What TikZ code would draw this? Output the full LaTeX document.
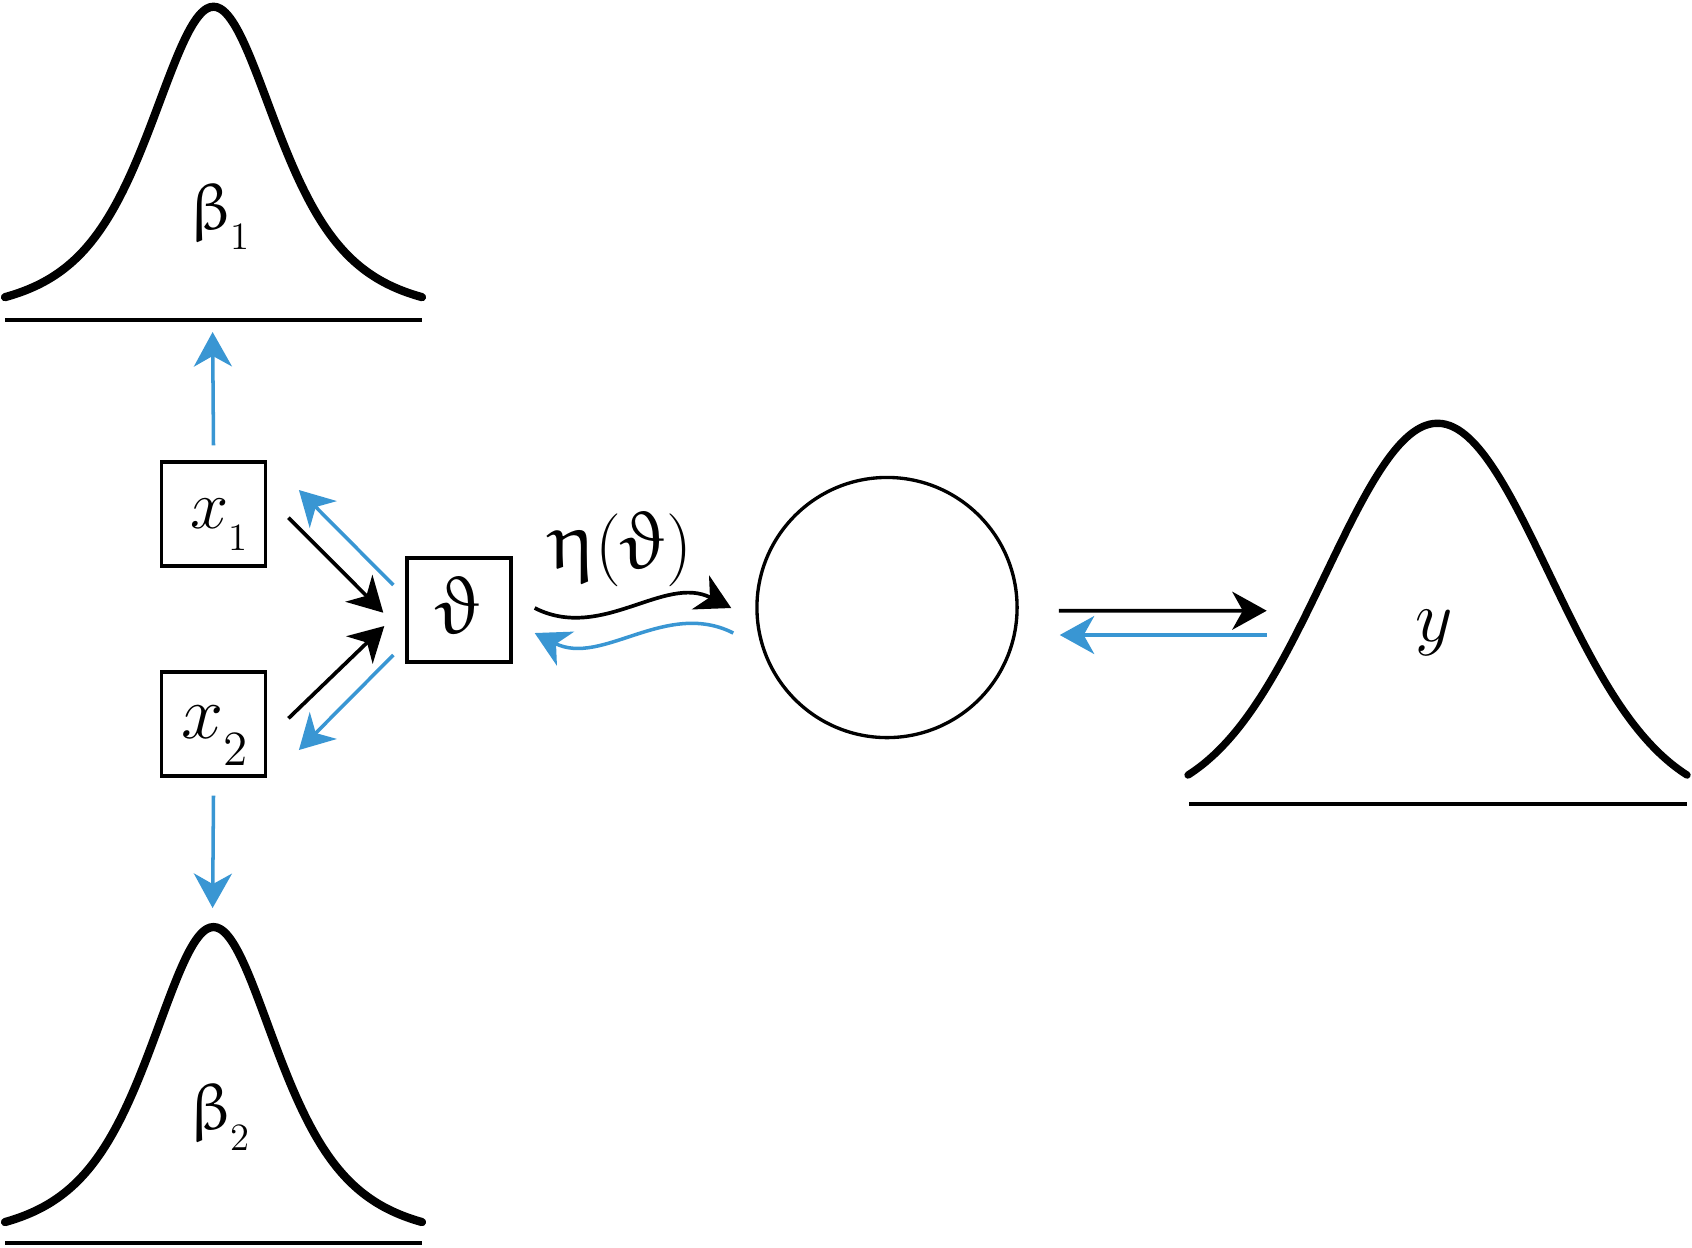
\RequirePackage{fix-cm}
\documentclass[tikz,border=0pt]{standalone}
\usepackage{graphicx}
\usepackage{upgreek}
\usetikzlibrary{arrows.meta,calc}
\definecolor{myblue}{RGB}{57,150,211}
% subscript: size, drop, text
\newcommand\mysub[3]{\raisebox{-#2}{\fontsize{#1}{13}\selectfont #3}}
\newcommand\myth{\scalebox{1.12}{$\upvartheta$}}
\newcommand\myeta{\scalebox{1.12}{$\upeta$}}
\newcommand\mybeta{\scalebox{0.9}{$\upbeta$}}
\tikzset{
  boxnode/.style={draw, rectangle, line width=0.95pt, minimum size=1.04cm, inner sep=0pt},
  circnode/.style={draw, circle, line width=0.95pt, minimum size=2.6cm, inner sep=0pt},
  lbl/.style={inner sep=0pt, font=\fontsize{20.74}{25}\selectfont},
  tipstyle/.style={-{Stealth[length=9.8pt,width=10.8pt,inset=3pt]}},
  blk/.style={black, line width=1.05pt, tipstyle},
  blu/.style={myblue, line width=1pt, tipstyle},
  dist/.style={line width=2.35pt, line cap=round, line join=round},
  ydist/.style={line width=2.1pt, line cap=round, line join=round},
  baseln/.style={line width=1.14pt},
}
\begin{document}
\begin{tikzpicture}[x=0.01cm, y=-0.01cm]
\useasboundingbox (0,0) rectangle (1692,1247);

% distributions
\draw[dist] plot[domain=-208.5:208.5, samples=121, smooth]
  ({213.5+\x},{316.3-309.6/((1+(\x/120)*(\x/120))*(1+(\x/120)*(\x/120)))});
\draw[baseln] (5,320) -- (422,320);
\draw[dist] plot[domain=-208.5:208.5, samples=121, smooth]
  ({213.5+\x},{1241.5-314.5/((1+(\x/120)*(\x/120))*(1+(\x/120)*(\x/120)))});
\draw[baseln] (5,1243) -- (422,1243);
\draw[ydist] plot[domain=-249.5:249.5, samples=121, smooth]
  ({1437.5+\x},{807.1-383.8*exp(-0.5*(\x/112)*(\x/112))});
\draw[baseln] (1189,804) -- (1687,804);

\coordinate (b1) at (212.6,320);
\coordinate (b2) at (212.6,927);
\coordinate (yleft) at (1188,775);

% labels of distributions
\node[lbl, anchor=base west] (beta1) at (189,229) {\mybeta\hspace{-0.8pt}\mysub{11}{5.8pt}{1}};
\node[lbl, anchor=base west] (beta2) at (189,1129) {\mybeta\hspace{-0.8pt}\mysub{11}{6.2pt}{2}};
\node[lbl, anchor=base] (ylbl) at (1434,641) {$y$};

% nodes
\node[boxnode] (x1) at (213.5,514) {};
\node[boxnode] (x2) at (213.5,724) {};
\node[boxnode, lbl, draw, line width=0.95pt, minimum size=1.04cm, text depth=2.8pt] (th) at (459,610) {\myth};
\node[circnode] (c) at (887,607.5) {};

\node[inner sep=0pt, font=\fontsize{19.5}{24}\selectfont, anchor=base west] (x1lbl) at (189.5,528) {$x\mysub{11}{6.3pt}{1}$};
\node[inner sep=0pt, font=\fontsize{21.5}{26}\selectfont, anchor=base west] (x2lbl) at (181,738) {$x\mysub{14}{7.7pt}{2}$};

\node[lbl] (eta) at (621,549) {\myeta$($\myth$)$};

% vertical blue arrows
\draw[blu] ($(x1.north)+(0,-15)$) -- ($(b1)+(0,12)$);
\draw[blu] ($(x2.south)+(0,18)$) -- ($(b2)+(0,-19)$);

% diagonal arrows
\draw[blk] ($(x1.east)+(21.3,3.7)$) -- ($(th.west)+(-22,2.7)$);
\draw[blu] ($(th.west)+(-12,-25)$) -- ($(x1.east)+(31.7,-24)$);
\draw[blk] ($(x2.east)+(21.3,-5.7)$) -- ($(th.west)+(-21,16)$);
\draw[blu] ($(th.west)+(-12,45)$) -- ($(x2.east)+(31.7,26)$);

% wavy arrows
\draw[blk] ($(th.east)+(22,-2)$) .. controls +(67,34) and +(-67,-34) .. ($(c.west)+(-24,0.5)$);
\draw[blu] ($(c.west)+(-22,25.5)$) .. controls +(-67,-34) and +(67,34) .. ($(th.east)+(22,23)$);

% right arrows
\draw[blk] ($(c.east)+(40,3.2)$) -- ($(yleft)+(78.7,-164.3)$);
\draw[blu] ($(yleft)+(78.7,-140)$) -- ($(c.east)+(41,27.5)$);
\end{tikzpicture}
\end{document}
